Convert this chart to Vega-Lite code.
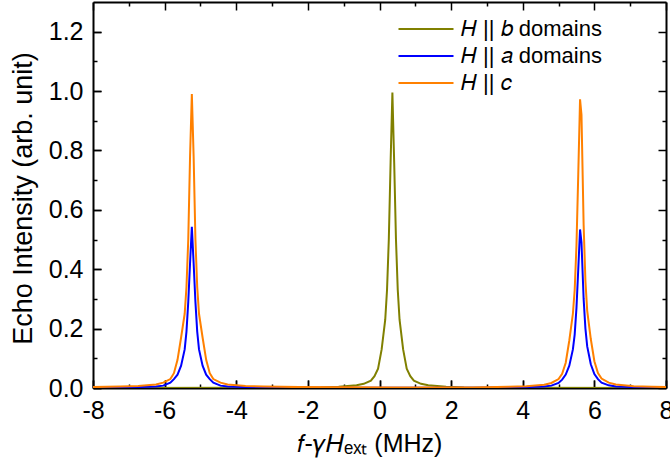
{
  "$schema": "https://vega.github.io/schema/vega-lite/v6.json",
  "width": 573,
  "height": 386,
  "autosize": {"type": "none"},
  "padding": {"left": 93, "top": 2, "right": 4, "bottom": 79},
  "background": "white",
  "config": {
    "view": {"stroke": null},
    "font": "Liberation Sans",
    "axis": {
      "grid": false,
      "domainColor": "black",
      "domainWidth": 2,
      "tickColor": "black",
      "tickWidth": 1.5,
      "labelColor": "black",
      "labelFont": "Liberation Sans",
      "labelFontSize": 25,
      "labelOverlap": false,
      "labelFlush": false,
      "titleColor": "black",
      "titleFont": "Liberation Sans",
      "titleFontWeight": "normal"
    }
  },
  "data": {
    "values": [
      {"f": -8, "intensity": 0, "dir": "b"},
      {"f": -2.64, "intensity": 0.001, "dir": "b"},
      {"f": -1.64, "intensity": 0.002, "dir": "b"},
      {"f": -1.14, "intensity": 0.004, "dir": "b"},
      {"f": -0.64, "intensity": 0.009, "dir": "b"},
      {"f": -0.44, "intensity": 0.014, "dir": "b"},
      {"f": -0.24, "intensity": 0.025, "dir": "b"},
      {"f": -0.14, "intensity": 0.04, "dir": "b"},
      {"f": -0.04, "intensity": 0.065, "dir": "b"},
      {"f": 0.06, "intensity": 0.13, "dir": "b"},
      {"f": 0.16, "intensity": 0.23, "dir": "b"},
      {"f": 0.21, "intensity": 0.33, "dir": "b"},
      {"f": 0.26, "intensity": 0.5, "dir": "b"},
      {"f": 0.31, "intensity": 0.76, "dir": "b"},
      {"f": 0.36, "intensity": 0.995, "dir": "b"},
      {"f": 0.41, "intensity": 0.76, "dir": "b"},
      {"f": 0.46, "intensity": 0.5, "dir": "b"},
      {"f": 0.51, "intensity": 0.33, "dir": "b"},
      {"f": 0.56, "intensity": 0.23, "dir": "b"},
      {"f": 0.66, "intensity": 0.13, "dir": "b"},
      {"f": 0.76, "intensity": 0.065, "dir": "b"},
      {"f": 0.86, "intensity": 0.04, "dir": "b"},
      {"f": 0.96, "intensity": 0.025, "dir": "b"},
      {"f": 1.16, "intensity": 0.014, "dir": "b"},
      {"f": 1.36, "intensity": 0.009, "dir": "b"},
      {"f": 1.86, "intensity": 0.004, "dir": "b"},
      {"f": 2.36, "intensity": 0.002, "dir": "b"},
      {"f": 3.36, "intensity": 0.001, "dir": "b"},
      {"f": 8, "intensity": 0, "dir": "b"},

      {"f": -8, "intensity": 0.001, "dir": "a"},
      {"f": -7.24, "intensity": 0.002, "dir": "a"},
      {"f": -6.74, "intensity": 0.003, "dir": "a"},
      {"f": -6.24, "intensity": 0.005, "dir": "a"},
      {"f": -6.04, "intensity": 0.008, "dir": "a"},
      {"f": -5.84, "intensity": 0.018, "dir": "a"},
      {"f": -5.74, "intensity": 0.03, "dir": "a"},
      {"f": -5.64, "intensity": 0.045, "dir": "a"},
      {"f": -5.54, "intensity": 0.075, "dir": "a"},
      {"f": -5.44, "intensity": 0.13, "dir": "a"},
      {"f": -5.39, "intensity": 0.19, "dir": "a"},
      {"f": -5.34, "intensity": 0.29, "dir": "a"},
      {"f": -5.29, "intensity": 0.42, "dir": "a"},
      {"f": -5.24, "intensity": 0.543, "dir": "a"},
      {"f": -5.19, "intensity": 0.42, "dir": "a"},
      {"f": -5.14, "intensity": 0.29, "dir": "a"},
      {"f": -5.09, "intensity": 0.19, "dir": "a"},
      {"f": -5.04, "intensity": 0.13, "dir": "a"},
      {"f": -4.94, "intensity": 0.075, "dir": "a"},
      {"f": -4.84, "intensity": 0.045, "dir": "a"},
      {"f": -4.74, "intensity": 0.03, "dir": "a"},
      {"f": -4.64, "intensity": 0.018, "dir": "a"},
      {"f": -4.44, "intensity": 0.008, "dir": "a"},
      {"f": -4.24, "intensity": 0.005, "dir": "a"},
      {"f": -3.74, "intensity": 0.003, "dir": "a"},
      {"f": -3.24, "intensity": 0.002, "dir": "a"},
      {"f": -2.24, "intensity": 0.001, "dir": "a"},
      {"f": 0.36, "intensity": 0.001, "dir": "a"},
      {"f": 2.6, "intensity": 0.001, "dir": "a"},
      {"f": 3.6, "intensity": 0.002, "dir": "a"},
      {"f": 4.1, "intensity": 0.003, "dir": "a"},
      {"f": 4.6, "intensity": 0.005, "dir": "a"},
      {"f": 4.8, "intensity": 0.008, "dir": "a"},
      {"f": 5.0, "intensity": 0.017, "dir": "a"},
      {"f": 5.1, "intensity": 0.028, "dir": "a"},
      {"f": 5.2, "intensity": 0.045, "dir": "a"},
      {"f": 5.3, "intensity": 0.075, "dir": "a"},
      {"f": 5.4, "intensity": 0.13, "dir": "a"},
      {"f": 5.45, "intensity": 0.18, "dir": "a"},
      {"f": 5.5, "intensity": 0.27, "dir": "a"},
      {"f": 5.55, "intensity": 0.4, "dir": "a"},
      {"f": 5.6, "intensity": 0.534, "dir": "a"},
      {"f": 5.64, "intensity": 0.49, "dir": "a"},
      {"f": 5.7, "intensity": 0.3, "dir": "a"},
      {"f": 5.75, "intensity": 0.2, "dir": "a"},
      {"f": 5.8, "intensity": 0.14, "dir": "a"},
      {"f": 5.9, "intensity": 0.08, "dir": "a"},
      {"f": 6.0, "intensity": 0.047, "dir": "a"},
      {"f": 6.1, "intensity": 0.03, "dir": "a"},
      {"f": 6.2, "intensity": 0.018, "dir": "a"},
      {"f": 6.4, "intensity": 0.009, "dir": "a"},
      {"f": 6.6, "intensity": 0.005, "dir": "a"},
      {"f": 7.1, "intensity": 0.003, "dir": "a"},
      {"f": 7.6, "intensity": 0.002, "dir": "a"},
      {"f": 8, "intensity": 0.001, "dir": "a"},

      {"f": -8, "intensity": 0.003, "dir": "c"},
      {"f": -7.24, "intensity": 0.005, "dir": "c"},
      {"f": -6.74, "intensity": 0.007, "dir": "c"},
      {"f": -6.24, "intensity": 0.012, "dir": "c"},
      {"f": -6.04, "intensity": 0.018, "dir": "c"},
      {"f": -5.84, "intensity": 0.03, "dir": "c"},
      {"f": -5.74, "intensity": 0.05, "dir": "c"},
      {"f": -5.64, "intensity": 0.095, "dir": "c"},
      {"f": -5.54, "intensity": 0.17, "dir": "c"},
      {"f": -5.44, "intensity": 0.25, "dir": "c"},
      {"f": -5.39, "intensity": 0.34, "dir": "c"},
      {"f": -5.34, "intensity": 0.5, "dir": "c"},
      {"f": -5.29, "intensity": 0.78, "dir": "c"},
      {"f": -5.24, "intensity": 0.99, "dir": "c"},
      {"f": -5.19, "intensity": 0.78, "dir": "c"},
      {"f": -5.14, "intensity": 0.5, "dir": "c"},
      {"f": -5.09, "intensity": 0.34, "dir": "c"},
      {"f": -5.04, "intensity": 0.25, "dir": "c"},
      {"f": -4.94, "intensity": 0.17, "dir": "c"},
      {"f": -4.84, "intensity": 0.095, "dir": "c"},
      {"f": -4.74, "intensity": 0.05, "dir": "c"},
      {"f": -4.64, "intensity": 0.03, "dir": "c"},
      {"f": -4.44, "intensity": 0.018, "dir": "c"},
      {"f": -4.24, "intensity": 0.012, "dir": "c"},
      {"f": -3.74, "intensity": 0.007, "dir": "c"},
      {"f": -3.24, "intensity": 0.005, "dir": "c"},
      {"f": -2.24, "intensity": 0.003, "dir": "c"},
      {"f": 0.36, "intensity": 0.002, "dir": "c"},
      {"f": 2.6, "intensity": 0.002, "dir": "c"},
      {"f": 3.6, "intensity": 0.004, "dir": "c"},
      {"f": 4.1, "intensity": 0.006, "dir": "c"},
      {"f": 4.6, "intensity": 0.011, "dir": "c"},
      {"f": 4.8, "intensity": 0.017, "dir": "c"},
      {"f": 5.0, "intensity": 0.03, "dir": "c"},
      {"f": 5.1, "intensity": 0.048, "dir": "c"},
      {"f": 5.2, "intensity": 0.085, "dir": "c"},
      {"f": 5.3, "intensity": 0.16, "dir": "c"},
      {"f": 5.4, "intensity": 0.25, "dir": "c"},
      {"f": 5.45, "intensity": 0.33, "dir": "c"},
      {"f": 5.5, "intensity": 0.48, "dir": "c"},
      {"f": 5.55, "intensity": 0.72, "dir": "c"},
      {"f": 5.6, "intensity": 0.972, "dir": "c"},
      {"f": 5.64, "intensity": 0.92, "dir": "c"},
      {"f": 5.7, "intensity": 0.55, "dir": "c"},
      {"f": 5.75, "intensity": 0.36, "dir": "c"},
      {"f": 5.8, "intensity": 0.26, "dir": "c"},
      {"f": 5.9, "intensity": 0.165, "dir": "c"},
      {"f": 6.0, "intensity": 0.09, "dir": "c"},
      {"f": 6.1, "intensity": 0.05, "dir": "c"},
      {"f": 6.2, "intensity": 0.032, "dir": "c"},
      {"f": 6.4, "intensity": 0.018, "dir": "c"},
      {"f": 6.6, "intensity": 0.012, "dir": "c"},
      {"f": 7.1, "intensity": 0.006, "dir": "c"},
      {"f": 7.6, "intensity": 0.004, "dir": "c"},
      {"f": 8, "intensity": 0.003, "dir": "c"}
    ]
  },
  "layer": [
    {
      "mark": {"type": "line", "strokeWidth": 2, "clip": true},
      "encoding": {
        "x": {
          "field": "f",
          "type": "quantitative",
          "scale": {"domain": [-8, 8], "nice": false, "zero": false},
          "axis": {
            "orient": "bottom",
            "values": [-8, -6, -4, -2, 0, 2, 4, 6, 8],
            "labelExpr": "'' + datum.value",
            "tickSize": -8,
            "labelPadding": 18,
            "title": "𝑓-𝛾𝐻ₑₓₜ (MHz)",
            "titleFontSize": 25,
            "titleX": 276,
            "titleY": 63,
            "titleAlign": "center",
            "titleBaseline": "alphabetic"
          }
        },
        "y": {
          "field": "intensity",
          "type": "quantitative",
          "scale": {"domain": [0, 1.3], "nice": false, "zero": false},
          "axis": {
            "orient": "left",
            "values": [0, 0.2, 0.4, 0.6, 0.8, 1.0, 1.2],
            "format": ".1f",
            "tickSize": -8,
            "labelPadding": 18,
            "title": "Echo Intensity (arb. unit)",
            "titleFontSize": 27,
            "titleX": -70,
            "titleY": 196,
            "titleAngle": -90,
            "titleAlign": "center",
            "titleBaseline": "middle"
          }
        },
        "color": {
          "field": "dir",
          "type": "nominal",
          "sort": ["b", "a", "c"],
          "scale": {"domain": ["b", "a", "c"], "range": ["#808000", "#0000FF", "#FF8000"]},
          "legend": {
            "orient": "none",
            "legendX": 321,
            "legendY": 15,
            "title": null,
            "padding": 0,
            "symbolType": "M-2.5,0H2.5",
            "symbolSize": 484,
            "symbolStrokeWidth": 2,
            "labelFont": "Liberation Sans",
            "labelFontSize": 22,
            "labelColor": "black",
            "labelOffset": 23,
            "rowPadding": 4,
            "labelLimit": 300,
            "labelExpr": "datum.value === 'b' ? '𝐻 || 𝑏 domains' : datum.value === 'a' ? '𝐻 || 𝑎 domains' : '𝐻 || 𝑐'"
          }
        }
      }
    },
    {
      "mark": {"type": "line", "strokeOpacity": 0},
      "encoding": {
        "x": {
          "field": "f",
          "type": "quantitative",
          "axis": {"orient": "top", "offset": -386, "values": [-8, -6, -4, -2, 0, 2, 4, 6, 8], "labels": false, "domain": false, "title": null, "tickSize": 8}
        },
        "y": {
          "field": "intensity",
          "type": "quantitative",
          "axis": {"orient": "right", "offset": -573, "values": [0, 0.2, 0.4, 0.6, 0.8, 1.0, 1.2], "labels": false, "domain": false, "title": null, "tickSize": 8}
        },
        "detail": {"field": "dir"}
      }
    },
    {
      "mark": {"type": "line", "strokeOpacity": 0},
      "encoding": {
        "x": {
          "field": "f",
          "type": "quantitative",
          "axis": {"orient": "top", "offset": -386, "values": [-7, -5, -3, -1, 1, 3, 5, 7], "labels": false, "domain": false, "title": null, "tickSize": 4}
        },
        "y": {
          "field": "intensity",
          "type": "quantitative",
          "axis": {"orient": "right", "offset": -573, "values": [0.1, 0.3, 0.5, 0.7, 0.9, 1.1], "labels": false, "domain": false, "title": null, "tickSize": 4}
        },
        "detail": {"field": "dir"}
      }
    },
    {
      "mark": {"type": "line", "strokeOpacity": 0},
      "encoding": {
        "x": {
          "field": "f",
          "type": "quantitative",
          "axis": {"orient": "bottom", "offset": -386, "values": [-8, -6, -4, -2, 0, 2, 4, 6, 8], "labels": false, "title": null, "tickSize": 8}
        },
        "y": {
          "field": "intensity",
          "type": "quantitative",
          "axis": {"orient": "left", "offset": -573, "values": [0, 0.2, 0.4, 0.6, 0.8, 1.0, 1.2], "labels": false, "title": null, "tickSize": 8}
        },
        "detail": {"field": "dir"}
      }
    },
    {
      "mark": {"type": "line", "strokeOpacity": 0},
      "encoding": {
        "x": {
          "field": "f",
          "type": "quantitative",
          "axis": {"orient": "bottom", "offset": -386, "values": [-7, -5, -3, -1, 1, 3, 5, 7], "labels": false, "domain": false, "title": null, "tickSize": 4}
        },
        "y": {
          "field": "intensity",
          "type": "quantitative",
          "axis": {"orient": "left", "offset": -573, "values": [0.1, 0.3, 0.5, 0.7, 0.9, 1.1], "labels": false, "domain": false, "title": null, "tickSize": 4}
        },
        "detail": {"field": "dir"}
      }
    }
  ],
  "resolve": {"axis": {"x": "independent", "y": "independent"}}
}
